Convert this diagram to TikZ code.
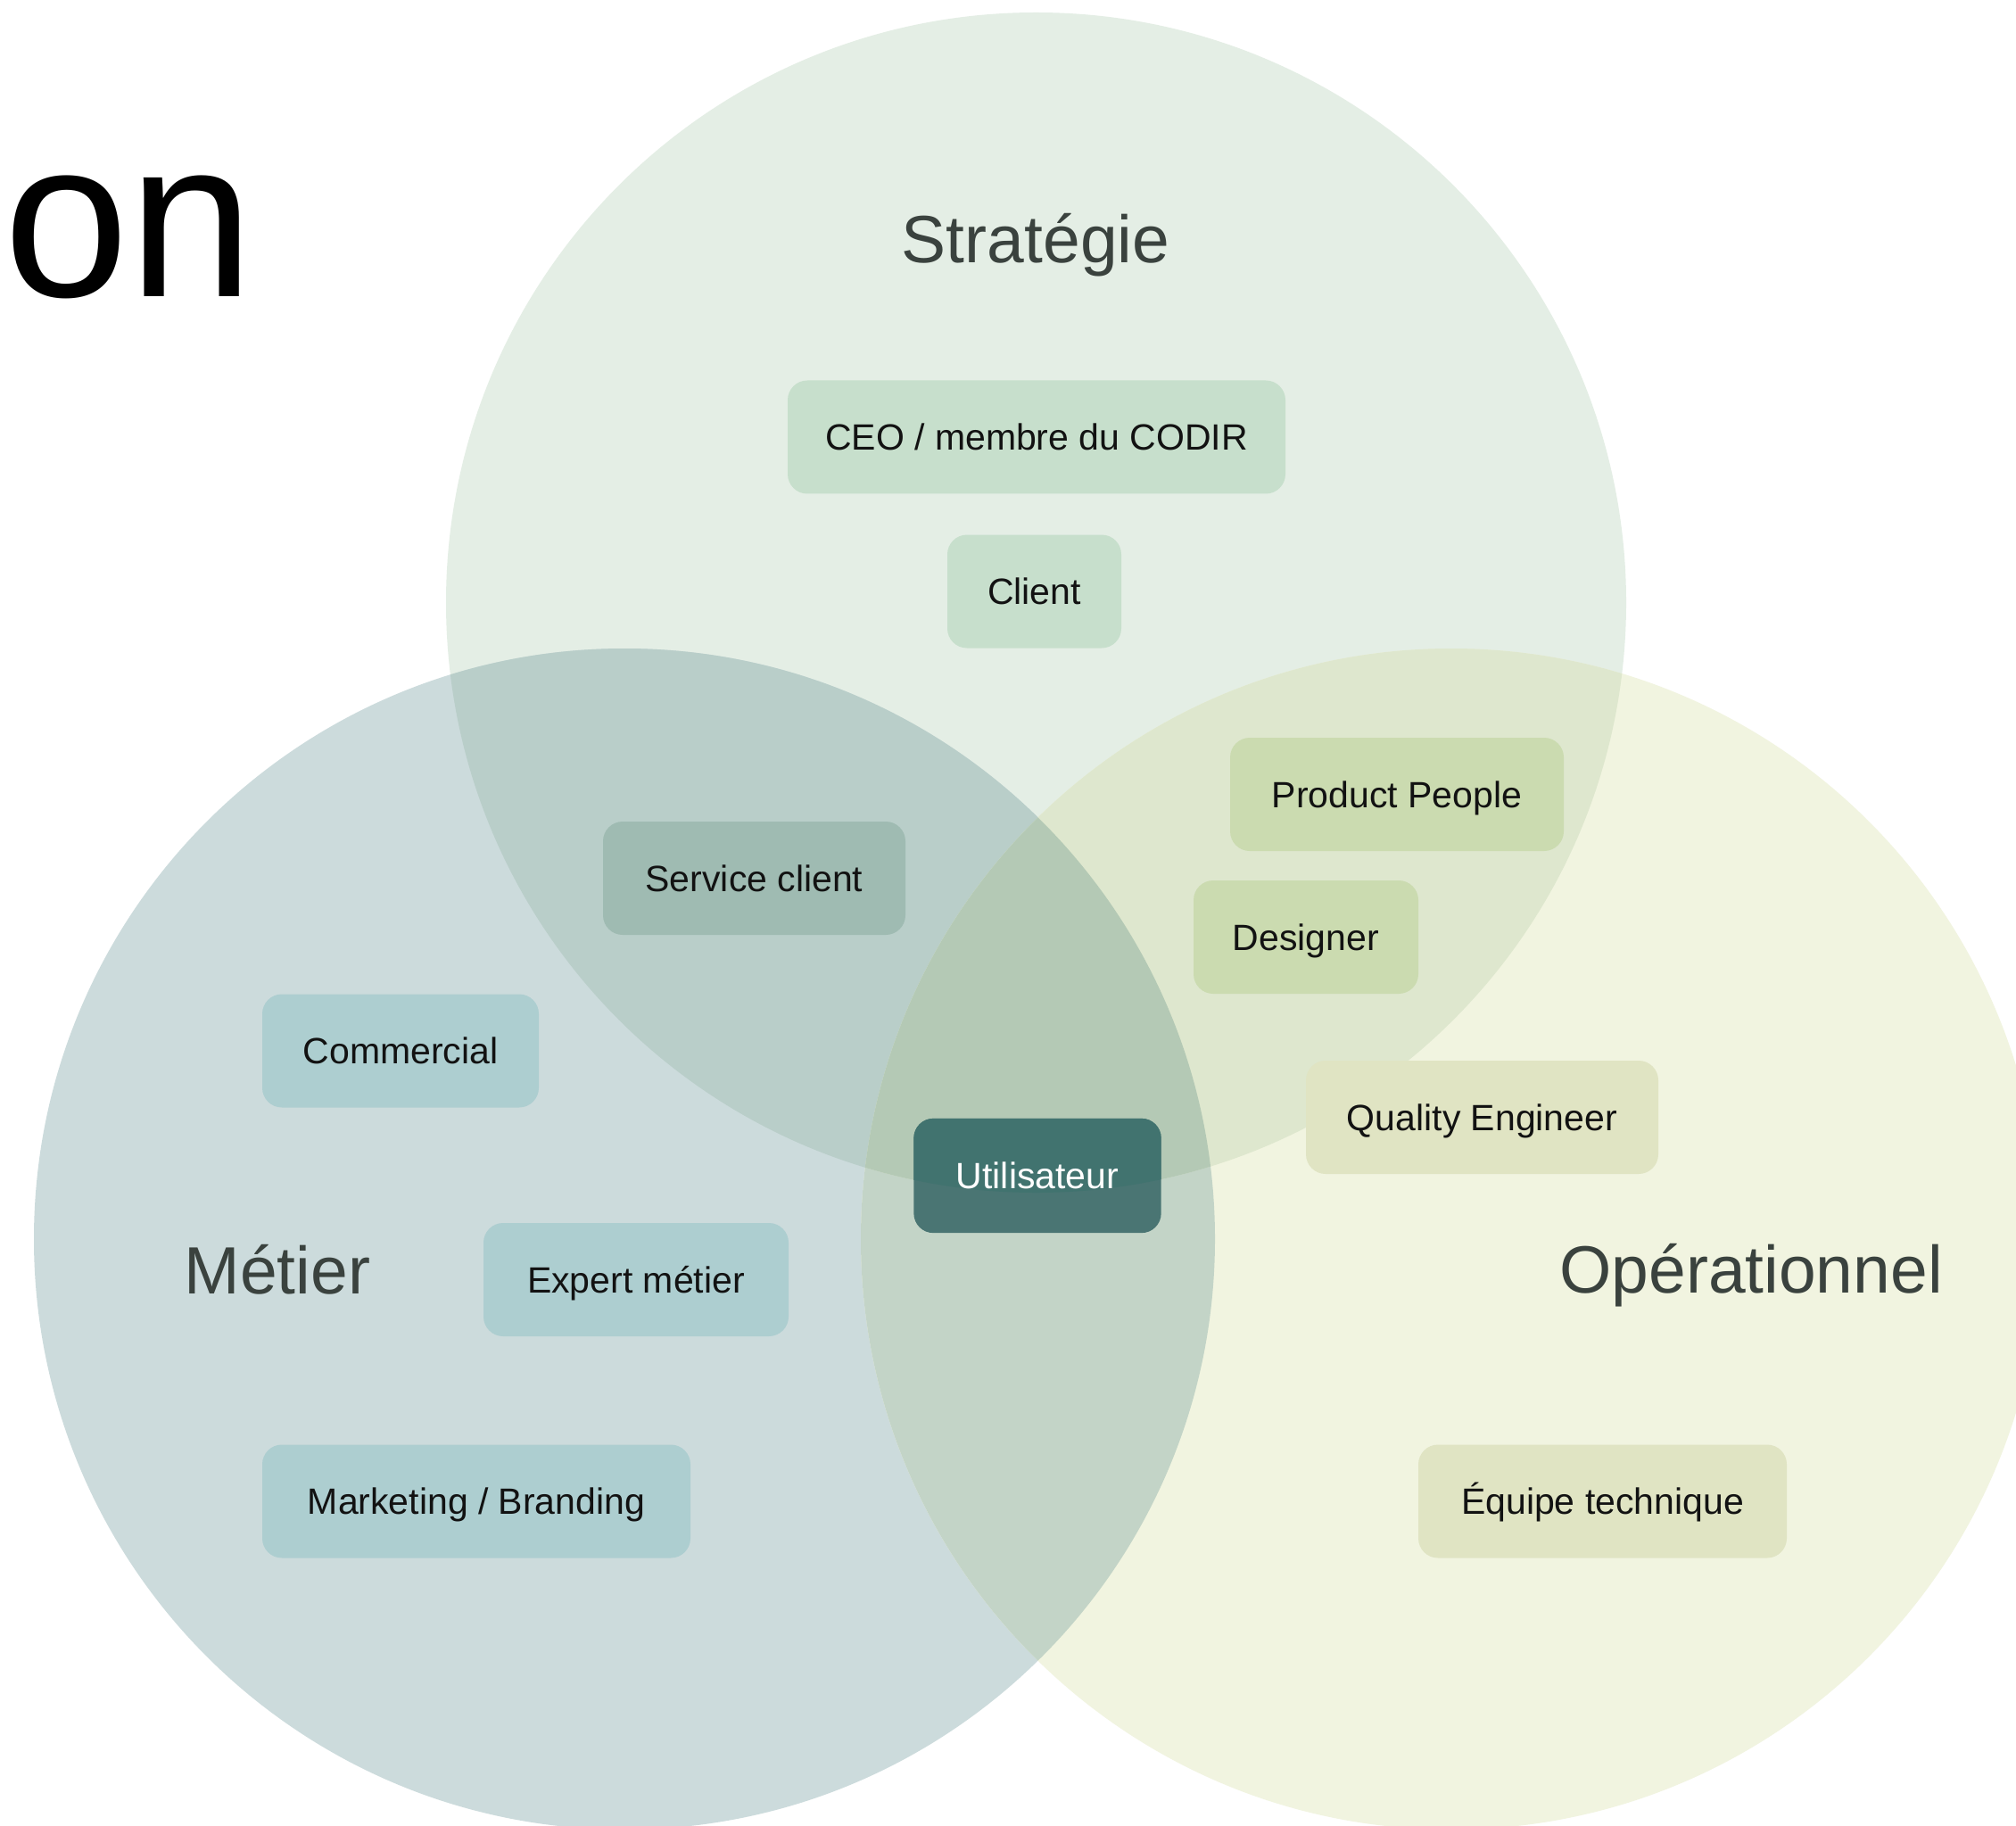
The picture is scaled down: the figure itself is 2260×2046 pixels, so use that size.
\documentclass[tikz,border=0pt]{standalone}
\usepackage{fontspec}
\setmainfont{Liberation Sans}
\definecolor{cS}{HTML}{E4EEE5}
\definecolor{cM}{HTML}{CCDBDC}
\definecolor{cO}{HTML}{F1F4E0}
\definecolor{cSM}{HTML}{B9CEC9}
\definecolor{cSO}{HTML}{DEE7CE}
\definecolor{cMO}{HTML}{C3D4C7}
\definecolor{cSMO}{HTML}{B4C9B5}
\definecolor{bStrat}{HTML}{C7DFCC}
\definecolor{bProd}{HTML}{CBDBB0}
\definecolor{bOper}{HTML}{E0E4C3}
\definecolor{bServ}{HTML}{9FBBB2}
\definecolor{bMet}{HTML}{ADCED0}
\definecolor{uTop}{HTML}{41736F}
\definecolor{uBot}{HTML}{4A7573}
\definecolor{lbl}{HTML}{3A423E}
\pgfdeclarelayer{back}
\pgfdeclarelayer{mid}
\pgfsetlayers{back,mid,main}
\begin{document}
\begin{tikzpicture}[x=0.3pt,y=-0.3pt,
  pill/.style={rounded corners=6.6pt, minimum height=38.1pt, inner sep=0pt,
    text height=8.8pt, text depth=0pt, font=\fontsize{12.3pt}{14pt}\selectfont, text=black!93},
  setlabel/.style={font=\fontsize{22.5pt}{26pt}\selectfont, text=lbl, anchor=base, inner sep=0pt}]
\useasboundingbox (0,0) rectangle (2260,2046);
\clip (0,0) rectangle (2260,2046);
\coordinate (S) at (1161.5,675.5);
\coordinate (M) at (700,1389);
\coordinate (O) at (1627,1389);
\begin{pgfonlayer}{back}
\fill[white] (0,0) rectangle (2260,2046);
\fill[cS] (S) circle[radius=661.5];
\fill[cM] (M) circle[radius=662];
\fill[cO] (O) circle[radius=662];
\begin{scope}
  \clip (M) circle[radius=662];
  \fill[cMO] (O) circle[radius=662];
\end{scope}
\begin{scope}
  \clip (S) circle[radius=661.5];
  \fill[cSM] (M) circle[radius=662];
  \fill[cSO] (O) circle[radius=662];
  \clip (M) circle[radius=662];
  \fill[cSMO] (O) circle[radius=662];
\end{scope}
\end{pgfonlayer}

\node[anchor=base west, inner sep=0pt, font=\fontsize{75.6pt}{80pt}\selectfont, text=black] (title) at (4,333) {on};

\node[setlabel] (lS) at (1161,295) {Stratégie};
\node[setlabel] (lM) at (311,1450) {Métier};
\node[setlabel] (lO) at (1963,1449) {Opérationnel};

\node[pill, fill=bStrat, minimum width=167.4pt] (ceo) at (1162,490) {CEO / membre du CODIR};
\node[pill, fill=bStrat, minimum width=58.5pt] (client) at (1159.5,663) {Client};
\node[pill, fill=bProd, minimum width=112.2pt] (prod) at (1566,890.5) {Product People};
\node[pill, fill=bProd, minimum width=75.6pt] (des) at (1464,1050.5) {Designer};
\node[pill, fill=bServ, minimum width=101.7pt] (serv) at (845.5,984.5) {Service client};
\node[pill, fill=bMet, minimum width=93pt] (com) at (449,1178) {Commercial};
\node[pill, fill=bOper, minimum width=118.5pt] (qe) at (1661.5,1252.5) {Quality Engineer};
\node[pill, fill=bMet, minimum width=102.6pt] (exp) at (713,1434.5) {Expert métier};
\node[pill, fill=bMet, minimum width=144pt] (mkt) at (534,1683) {Marketing / Branding};
\node[pill, fill=bOper, minimum width=123.9pt] (eq) at (1796.5,1683) {Équipe technique};
\node[pill, text=white, minimum width=82.8pt] (util) at (1163,1318) {Utilisateur};
\begin{pgfonlayer}{mid}
  \fill[uBot, rounded corners=6.6pt] (util.south west) rectangle (util.north east);
  \begin{scope}
    \clip (S) circle[radius=661.5];
    \fill[uTop, rounded corners=6.6pt] (util.south west) rectangle (util.north east);
  \end{scope}
\end{pgfonlayer}
\end{tikzpicture}
\end{document}
